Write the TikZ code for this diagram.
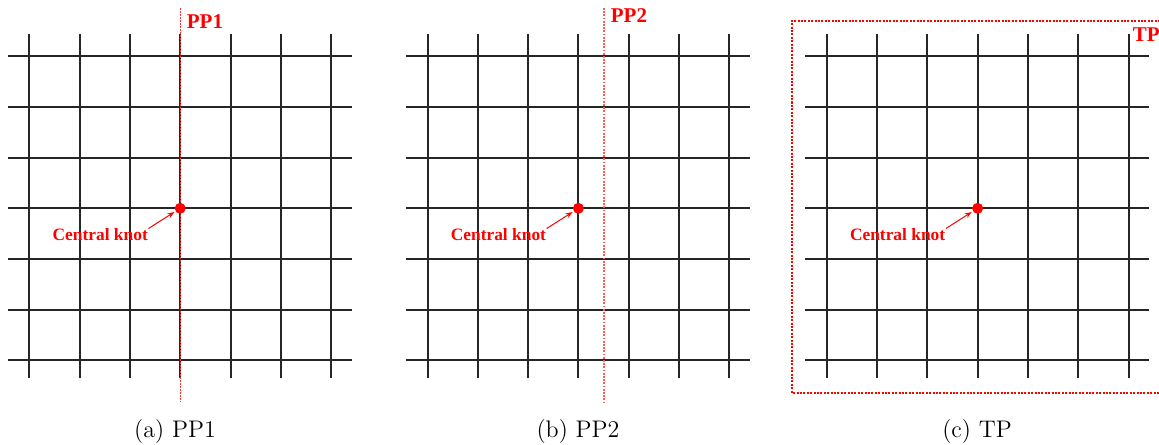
\documentclass[tikz,border=0pt]{standalone}
\usepackage{fontspec}
\newfontfamily\lbl{Liberation Serif}
\usetikzlibrary{arrows.meta}
\begin{document}
\begin{tikzpicture}[x=0.5pt,y=-0.5pt,
  gridline/.style={line width=1pt,black!85},
  redlbl/.style={text=red,font=\lbl\bfseries\fontsize{10.5}{12}\selectfont,inner sep=0pt},
  knotlbl/.style={text=red,font=\lbl\bfseries\fontsize{8.7}{10}\selectfont,inner sep=0pt},
  knot/.style={circle,fill=red,inner sep=0pt,minimum size=5.5pt},
  arr/.style={red,line width=0.5pt,-{Stealth[length=3.5pt,width=2.6pt]},shorten >=0.5pt},
  subcap/.style={font=\fontsize{12}{14}\selectfont,inner sep=0pt,anchor=base},
  planeline/.style={red!80,line width=0.45pt,dash pattern=on 0.8pt off 0.7pt},
  planeline2/.style={red!65,line width=0.8pt,dash pattern=on 0.9pt off 0.7pt},
  tpbox/.style={red,line width=1pt,dash pattern=on 1pt off 0.7pt}]
\useasboundingbox (0,0) rectangle (1159,444);
\fill[white] (0,0) rectangle (1159,444);
% TP box
\draw[tpbox] (1160,20.7) -- (792,20.7) -- (792,392.7) -- (1160,392.7);
\foreach \p/\xo in {a/0,b/398.2,c/797.4}{
  \begin{scope}[xshift=\xo*0.5pt]
    \foreach \i in {0,...,6}{
      \draw[gridline] (29.3+\i*50.3,34) -- (29.3+\i*50.3,377.5);
      \draw[gridline] (8,56.5+\i*50.6) -- (352,56.5+\i*50.6);
    }
  \end{scope}
}
% plane lines
\draw[planeline] (180.2,8) -- (180.2,402);
\draw[planeline2] (603.7,8) -- (603.7,402);
\foreach \p/\xo in {a/0,b/398.2,c/797.4}{
  \node[knot] (k\p) at ({180.2+\xo},208.3) {};
  \node[knotlbl] (l\p) at ({100.2+\xo},235) {Central knot};
  \coordinate (t\p) at ({148.5+\xo},228.5);
  \draw[arr] (t\p) -- (k\p);
}
\node[redlbl,anchor=base west] (pp1) at (186.5,28.3) {PP1};
\node[redlbl,anchor=base west] (pp2) at (610.5,22.8) {PP2};
\node[redlbl,anchor=base west] (tp) at (1132.5,42) {TP};
\node[subcap] (ca) at (175,437) {(a) PP1};
\node[subcap] (cb) at (578,437) {(b) PP2};
\node[subcap] (cc) at (977,437) {(c) TP};
\end{tikzpicture}
\end{document}
